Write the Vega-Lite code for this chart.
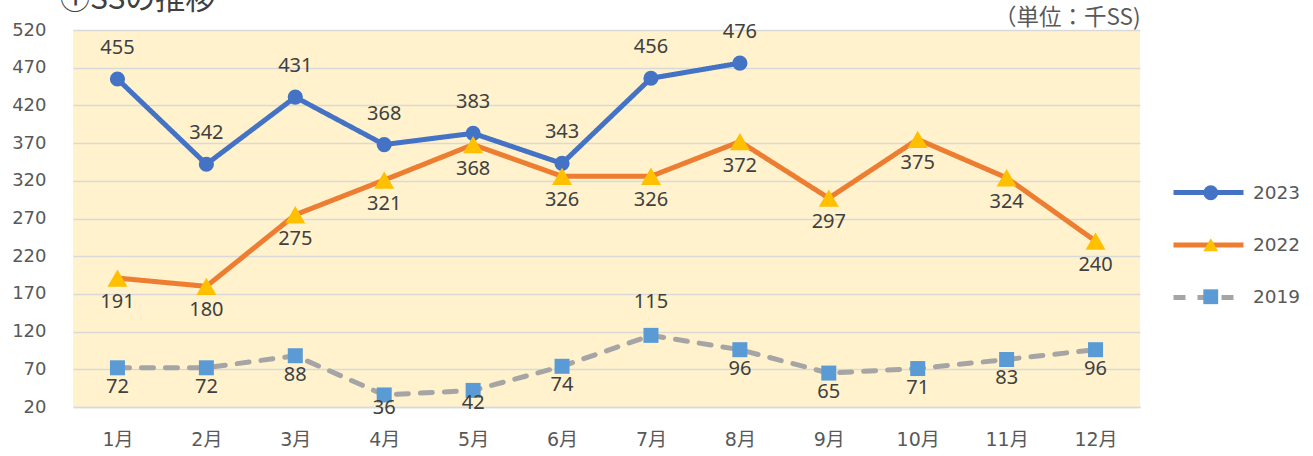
{
  "$schema": "https://vega.github.io/schema/vega-lite/v6.json",
  "width": 1067,
  "height": 377,
  "autosize": {"type": "none"},
  "padding": {"left": 73, "top": 30, "right": 173, "bottom": 49},
  "background": "white",
  "config": {
    "view": {"fill": "#FFF2CC", "stroke": null},
    "font": "Noto Sans CJK JP"
  },
  "title": {
    "text": "①SSの推移",
    "anchor": "start",
    "frame": "group",
    "fontSize": 30,
    "fontWeight": "normal",
    "color": "#404040",
    "font": "Noto Sans CJK JP",
    "dx": -13,
    "offset": -9
  },
  "data": {
    "values": [
      {"month": "1月", "series": "2023", "value": 455},
      {"month": "2月", "series": "2023", "value": 342},
      {"month": "3月", "series": "2023", "value": 431},
      {"month": "4月", "series": "2023", "value": 368},
      {"month": "5月", "series": "2023", "value": 383},
      {"month": "6月", "series": "2023", "value": 343},
      {"month": "7月", "series": "2023", "value": 456},
      {"month": "8月", "series": "2023", "value": 476},
      {"month": "1月", "series": "2022", "value": 191},
      {"month": "2月", "series": "2022", "value": 180},
      {"month": "3月", "series": "2022", "value": 275},
      {"month": "4月", "series": "2022", "value": 321},
      {"month": "5月", "series": "2022", "value": 368},
      {"month": "6月", "series": "2022", "value": 326},
      {"month": "7月", "series": "2022", "value": 326},
      {"month": "8月", "series": "2022", "value": 372},
      {"month": "9月", "series": "2022", "value": 297},
      {"month": "10月", "series": "2022", "value": 375},
      {"month": "11月", "series": "2022", "value": 324},
      {"month": "12月", "series": "2022", "value": 240},
      {"month": "1月", "series": "2019", "value": 72},
      {"month": "2月", "series": "2019", "value": 72},
      {"month": "3月", "series": "2019", "value": 88},
      {"month": "4月", "series": "2019", "value": 36},
      {"month": "5月", "series": "2019", "value": 42},
      {"month": "6月", "series": "2019", "value": 74},
      {"month": "7月", "series": "2019", "value": 115},
      {"month": "8月", "series": "2019", "value": 96},
      {"month": "9月", "series": "2019", "value": 65},
      {"month": "10月", "series": "2019", "value": 71},
      {"month": "11月", "series": "2019", "value": 83},
      {"month": "12月", "series": "2019", "value": 96}
    ]
  },
  "resolve": {"axis": {"x": "independent"}},
  "layer": [
    {
      "mark": {"type": "line", "strokeWidth": 5, "strokeCap": "round", "strokeJoin": "round"},
      "encoding": {
        "x": {
          "field": "month", "type": "ordinal", "sort": null,
          "scale": {"type": "point", "padding": 0.5},
          "axis": {
            "title": null, "labelAngle": 0, "ticks": false, "grid": false,
            "domainColor": "#D9D9D9", "domainWidth": 1.5,
            "labelFont": "DejaVu Sans, Noto Sans CJK JP",
            "labelFontSize": 19, "labelColor": "#595959", "labelPadding": 23
          }
        },
        "y": {
          "field": "value", "type": "quantitative",
          "scale": {"domain": [20, 520], "nice": false, "zero": false},
          "axis": {
            "title": null, "values": [20, 70, 120, 170, 220, 270, 320, 370, 420, 470, 520],
            "tickCount": 30, "labelOverlap": false,
            "domain": false, "ticks": false, "gridColor": "#D9D9D9", "gridWidth": 1.5,
            "labelFont": "DejaVu Sans",
            "labelFontSize": 18, "labelColor": "#595959", "labelPadding": 27
          }
        },
        "stroke": {
          "field": "series", "type": "nominal", "sort": "descending",
          "scale": {"range": ["#4472C4", "#ED7D31", "#A5A5A5"]},
          "legend": {
            "orient": "none", "legendX": 1098, "legendY": 125, "title": null,
            "padding": 0, "symbolType": "stroke", "symbolSize": 4900,
            "symbolStrokeWidth": 5, "labelExpr": "''", "rowPadding": 4.5,
            "labelFontSize": 19
          }
        },
        "strokeDash": {
          "field": "series", "type": "nominal", "sort": "descending",
          "scale": {"range": [[1, 0], [1, 0], [12, 12]]}
        }
      }
    },
    {
      "transform": [{"fold": ["series"], "as": ["key", "year"]}],
      "mark": {"type": "point", "filled": true, "opacity": 1},
      "encoding": {
        "x": {"field": "month", "type": "ordinal", "sort": null, "axis": null},
        "y": {"field": "value", "type": "quantitative"},
        "shape": {
          "field": "year", "type": "nominal",
          "scale": {"domain": ["2023", "2022", "2019"], "range": ["circle", "triangle-up", "square"]}
        },
        "fill": {
          "field": "year", "type": "nominal",
          "scale": {"domain": ["2023", "2022", "2019"], "range": ["#4472C4", "#FFC000", "#5B9BD5"]},
          "legend": {
            "orient": "none", "legendX": 1128.5, "legendY": 153.5, "title": null,
            "padding": 0, "symbolSize": 220, "rowPadding": 31,
            "labelFontSize": 18.5, "labelColor": "#595959", "labelOffset": 33,
            "labelFont": "DejaVu Sans"
          }
        },
        "size": {
          "field": "series", "type": "nominal", "sort": "ascending",
          "scale": {"type": "ordinal", "range": [225, 400, 230]},
          "legend": null
        }
      }
    },
    {
      "transform": [{"filter": "datum.series == '2023'"}],
      "mark": {"type": "text", "dy": -31, "fontSize": 20, "color": "#404040", "font": "Noto Sans"},
      "encoding": {
        "x": {
          "field": "month", "type": "ordinal", "sort": null,
          "axis": {
            "orient": "top", "labels": false, "ticks": false, "domain": false, "grid": false,
            "title": "（単位：千SS)", "titleAnchor": "end", "titleFontSize": 22.5,
            "titleFont": "Noto Sans CJK JP",
            "titleFontWeight": "normal", "titleColor": "#595959", "titlePadding": 1
          }
        },
        "y": {"field": "value", "type": "quantitative"},
        "text": {"field": "value", "type": "quantitative"}
      }
    },
    {
      "transform": [{"filter": "datum.series == '2022'"}],
      "mark": {"type": "text", "dy": 24, "fontSize": 20, "color": "#404040", "font": "Noto Sans"},
      "encoding": {
        "x": {"field": "month", "type": "ordinal", "sort": null, "axis": null},
        "y": {"field": "value", "type": "quantitative"},
        "text": {"field": "value", "type": "quantitative"}
      }
    },
    {
      "transform": [{"filter": "datum.series == '2019' && datum.month != '7月' && datum.month != '4月' && datum.month != '5月'"}],
      "mark": {"type": "text", "dy": 19, "fontSize": 20, "color": "#404040", "font": "Noto Sans"},
      "encoding": {
        "x": {"field": "month", "type": "ordinal", "sort": null, "axis": null},
        "y": {"field": "value", "type": "quantitative"},
        "text": {"field": "value", "type": "quantitative"}
      }
    },
    {
      "transform": [{"filter": "datum.series == '2019' && (datum.month == '4月' || datum.month == '5月')"}],
      "mark": {"type": "text", "dy": 13, "fontSize": 20, "color": "#404040", "font": "Noto Sans"},
      "encoding": {
        "x": {"field": "month", "type": "ordinal", "sort": null, "axis": null},
        "y": {"field": "value", "type": "quantitative"},
        "text": {"field": "value", "type": "quantitative"}
      }
    },
    {
      "transform": [{"filter": "datum.series == '2019' && datum.month == '7月'"}],
      "mark": {"type": "text", "dy": -33, "fontSize": 20, "color": "#404040", "font": "Noto Sans"},
      "encoding": {
        "x": {"field": "month", "type": "ordinal", "sort": null, "axis": null},
        "y": {"field": "value", "type": "quantitative"},
        "text": {"field": "value", "type": "quantitative"}
      }
    }
  ]
}
